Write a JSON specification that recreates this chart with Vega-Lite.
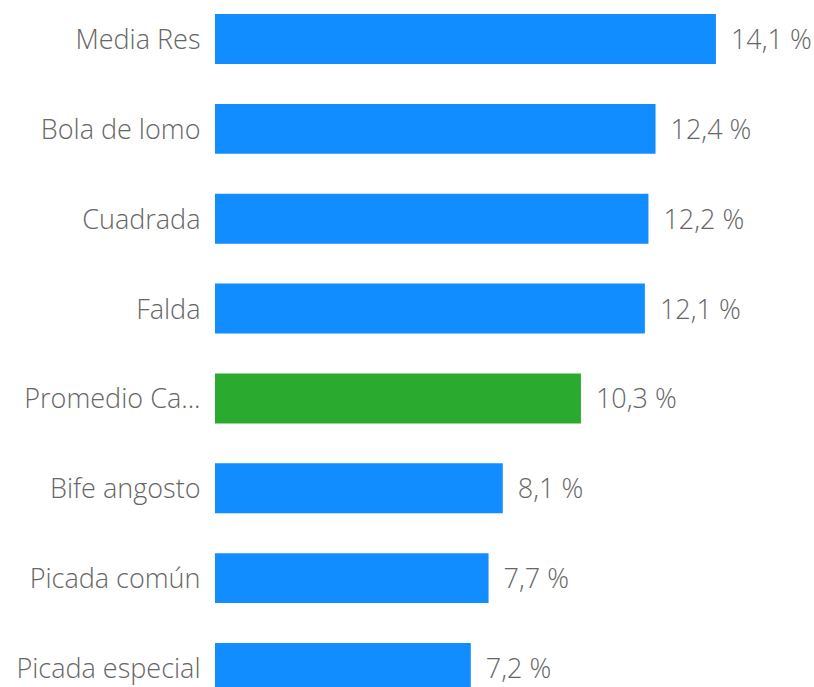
{
  "$schema": "https://vega.github.io/schema/vega-lite/v6.json",
  "width": 599,
  "height": 707,
  "autosize": "none",
  "padding": {"left": 215, "top": 0, "right": 0, "bottom": 0},
  "background": "white",
  "config": {"view": {"stroke": null}},
  "data": {
    "values": [
      {"name": "Media Res", "value": 14.1, "label": "14,1 %", "group": "item"},
      {"name": "Bola de lomo", "value": 12.4, "label": "12,4 %", "group": "item"},
      {"name": "Cuadrada", "value": 12.2, "label": "12,2 %", "group": "item"},
      {"name": "Falda", "value": 12.1, "label": "12,1 %", "group": "item"},
      {"name": "Promedio Ca...", "value": 10.3, "label": "10,3 %", "group": "avg"},
      {"name": "Bife angosto", "value": 8.1, "label": "8,1 %", "group": "item"},
      {"name": "Picada común", "value": 7.7, "label": "7,7 %", "group": "item"},
      {"name": "Picada especial", "value": 7.2, "label": "7,2 %", "group": "item"}
    ]
  },
  "encoding": {
    "y": {
      "field": "name",
      "type": "nominal",
      "sort": null,
      "scale": {"paddingInner": 0.444, "paddingOuter": 0.156},
      "axis": {
        "title": null,
        "ticks": false,
        "domain": false,
        "labelPadding": 15,
        "labelOffset": 2,
        "labelFont": "Open Sans",
        "labelFontSize": 27,
        "labelFontWeight": 300,
        "labelColor": "#666666",
        "labelLimit": 300
      }
    },
    "x": {
      "field": "value",
      "type": "quantitative",
      "scale": {"domain": [0, 16.86], "nice": false},
      "axis": null
    }
  },
  "layer": [
    {
      "mark": {"type": "bar"},
      "encoding": {
        "color": {
          "field": "group",
          "type": "nominal",
          "scale": {"domain": ["item", "avg"], "range": ["#118DFF", "#2AAB2F"]},
          "legend": null
        }
      }
    },
    {
      "mark": {"type": "text", "align": "left", "baseline": "middle", "dx": 15, "dy": 2, "font": "Open Sans", "fontSize": 27, "fontWeight": 300, "color": "#666666"},
      "encoding": {"text": {"field": "label"}}
    }
  ]
}
